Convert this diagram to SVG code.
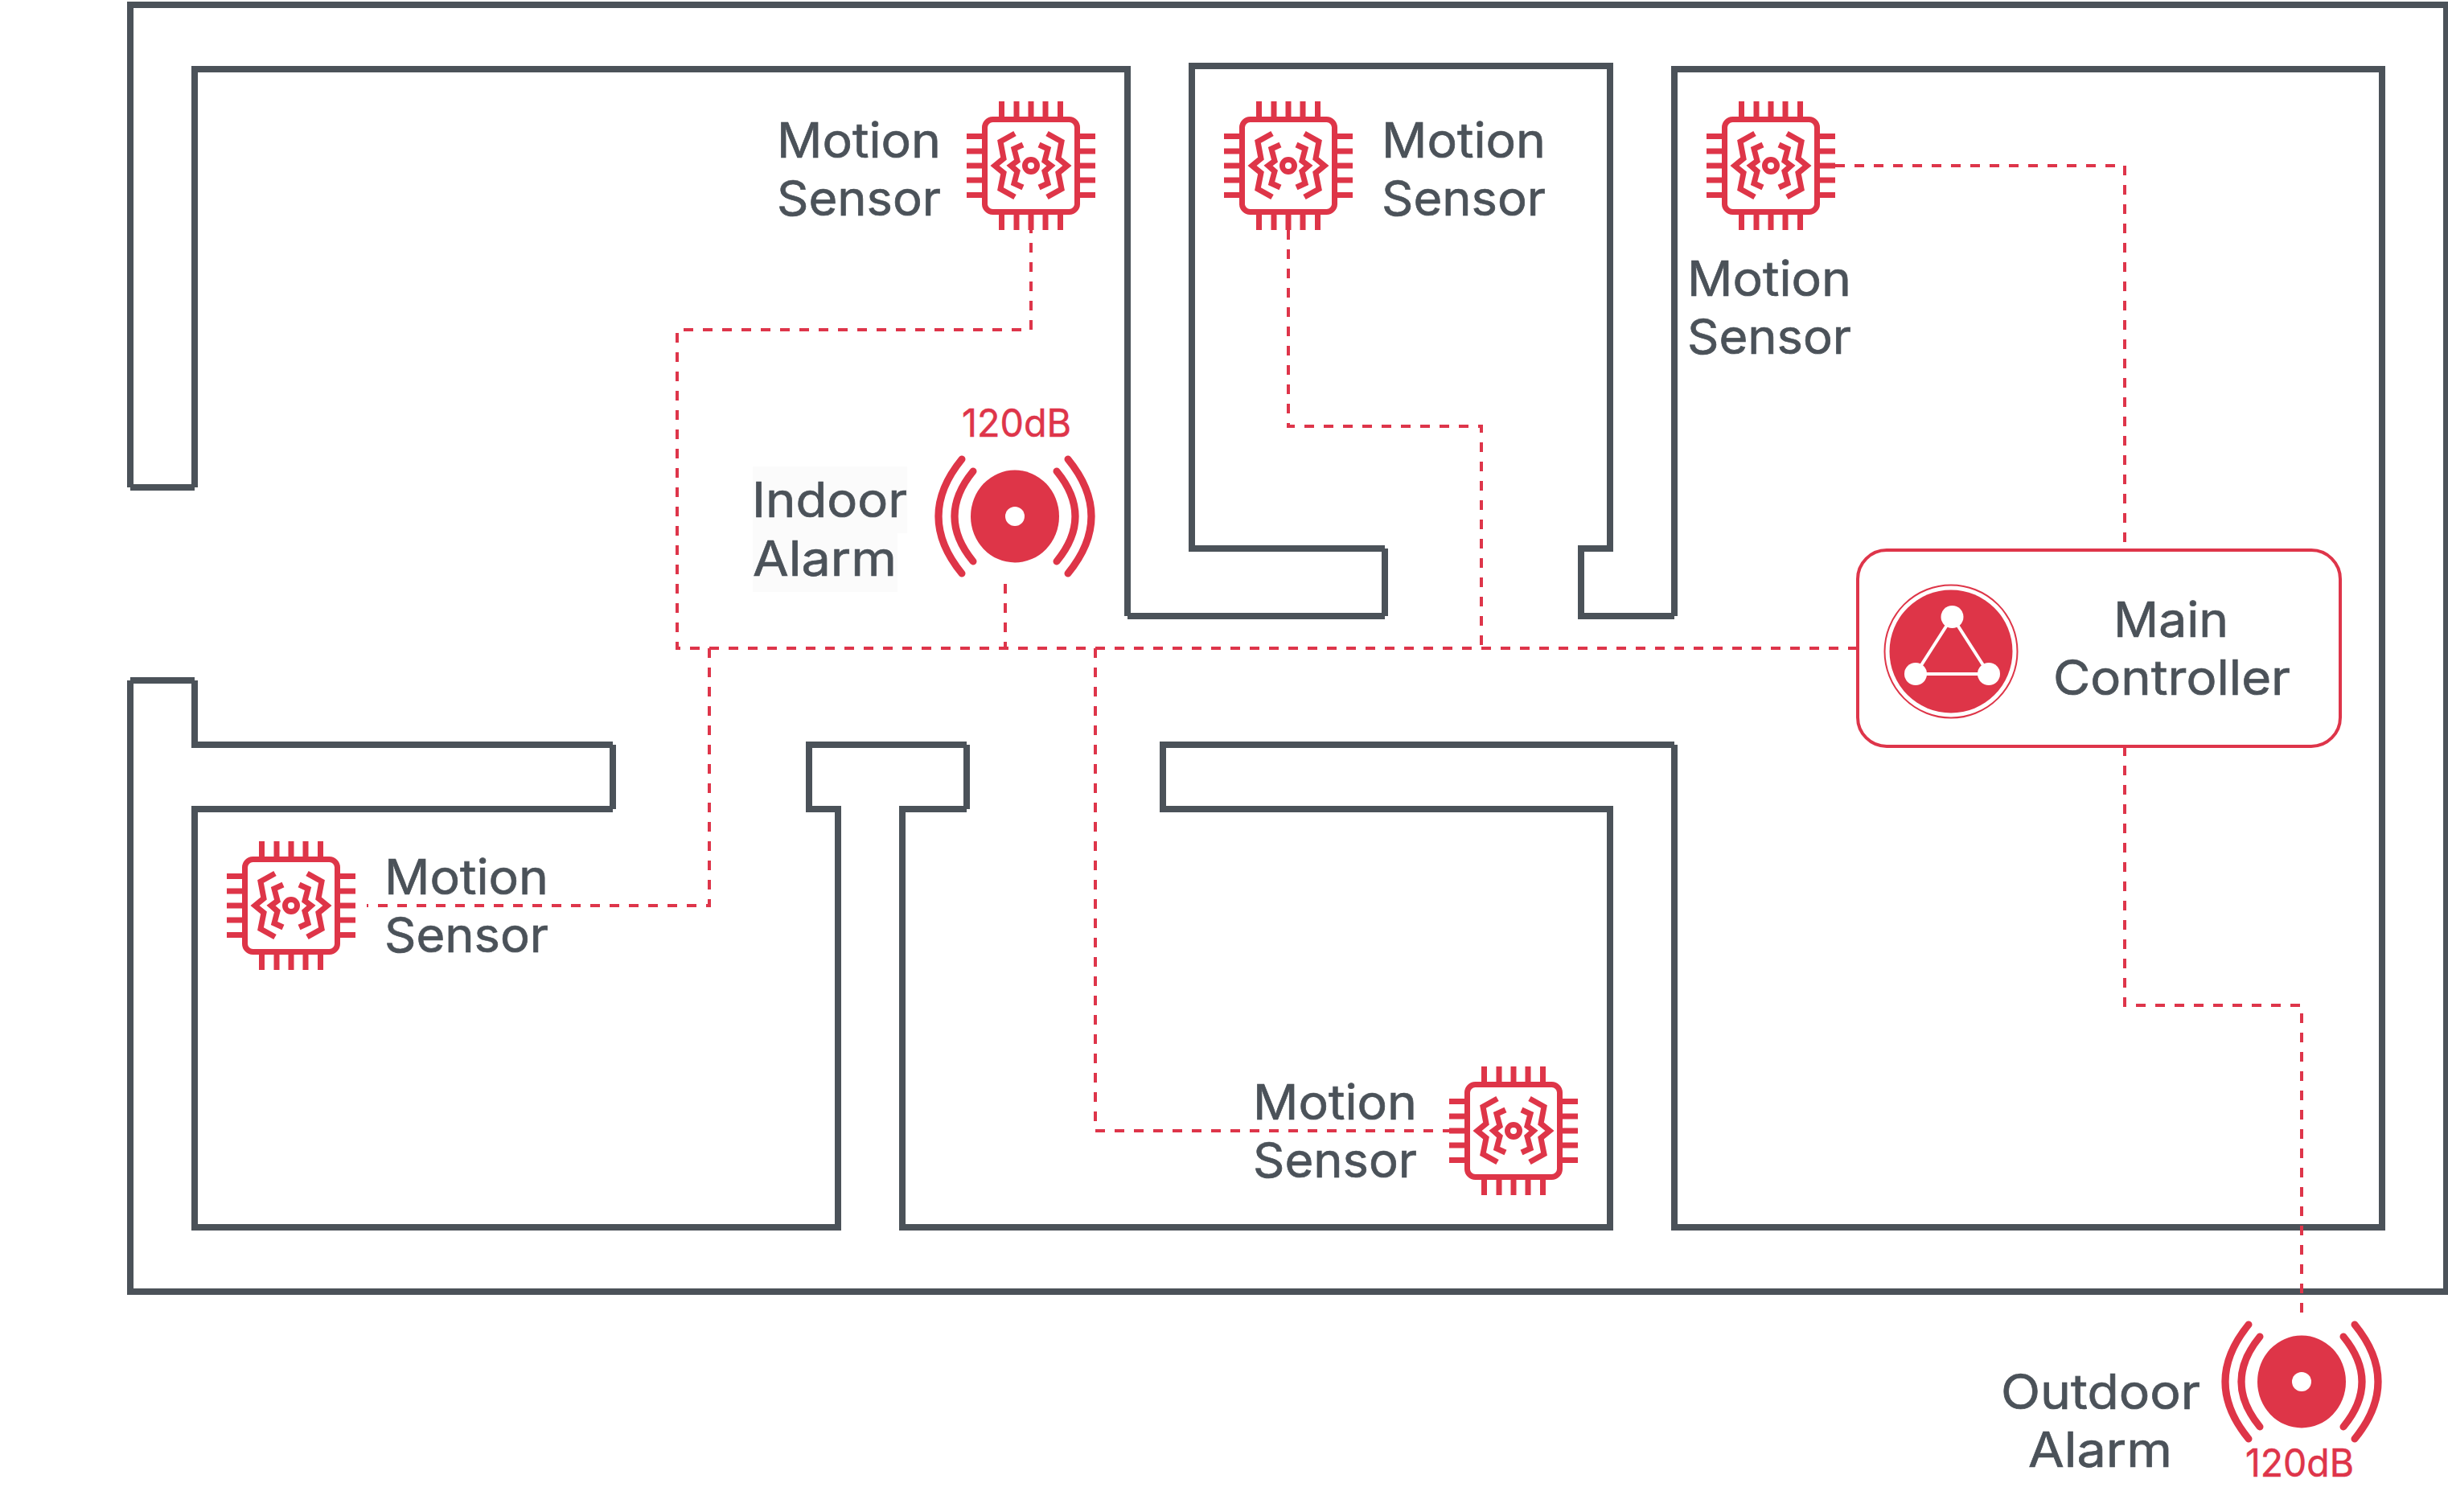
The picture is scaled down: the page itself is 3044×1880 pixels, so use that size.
<svg xmlns="http://www.w3.org/2000/svg" width="3044" height="1880" viewBox="0 0 3044 1880">
<style>
.wall{fill:none;stroke:#4b5259;stroke-width:8;stroke-linecap:butt;stroke-linejoin:miter}
.dash{fill:none;stroke:#de354a;stroke-width:4;stroke-dasharray:12 12}
.lbl{font-family:"Inter","Liberation Sans",sans-serif;font-size:60px;fill:#4b5259;stroke:#4b5259;stroke-width:.7}
.db{font-family:"Inter","Liberation Sans",sans-serif;font-size:48px;fill:#de354a;stroke:#de354a;stroke-width:.5}
.ico{fill:none;stroke:#de3548;stroke-width:7}
.arc{fill:none;stroke:#de3548;stroke-width:9;stroke-linecap:round}
</style>
<defs>
<g id="chip">
<rect class="ico" x="-57.5" y="-57.5" width="115" height="115" rx="10"/>
<path class="ico" d="M-80-36.500H-61M-80-18H-61M-80 0H-61M-80 18H-61M-80 36.500H-61M61-36.500H80M61-18H80M61 0H80M61 18H80M61 36.500H80M-36.500-80V-61M-18-80V-61M0-80V-61M18-80V-61M36.500-80V-61M-36.500 61V80M-18 61V80M0 61V80M18 61V80M36.500 61V80"/>
<circle class="ico" r="7.500"/>
<path class="ico" d="M-20-40L-38-30L-34-9L-45 0L-34 9L-38 29L-20 39M20-40L38-30L34-9L45 0L34 9L38 29L20 39M-10-26L-21-21L-17-6L-25 0L-17 7L-21 22L-10 27M10-26L21-21L17-6L25 0L17 7L21 22L10 27"/>
</g>
<g id="siren">
<ellipse rx="55" ry="57.500" fill="#de3548"/>
<circle r="12" fill="#fff"/>
<path class="arc" d="M-52-56Q-98 0-52 56M52-56Q98 0 52 56M-66-71Q-124 0-66 71M66-71Q124 0 66 71"/>
</g>
</defs>
<rect width="3044" height="1880" fill="#fff"/>
<g id="walls">
<path class="wall" d="M162 606V6H3042V1606H162V846"/>
<path class="wall" d="M162 846H242"/>
<path class="wall" d="M242 846V926H762"/>
<path class="wall" d="M762 926V1006"/>
<path class="wall" d="M762 1006H242V1526H1042V1006H1006V926H1202"/>
<path class="wall" d="M1202 926V1006"/>
<path class="wall" d="M1202 1006H1122V1526H2002V1006H1446V926H2082"/>
<path class="wall" d="M2082 926V1526H2962V86H2082V766"/>
<path class="wall" d="M2082 766H1966V682H2002V82H1482V682H1722"/>
<path class="wall" d="M1722 682V766"/>
<path class="wall" d="M1722 766H1402"/>
<path class="wall" d="M1402 766V86H242V606"/>
<path class="wall" d="M242 606H162"/>
</g>
<g id="connectors">
<path class="dash" d="M2310 806H842V410H1282V286"/>
<path class="dash" d="M1602 286V530H1842V806"/>
<path class="dash" d="M2282 206H2642V684"/>
<path class="dash" d="M1250 726V806"/>
<path class="dash" d="M882 806V1126H456"/>
<path class="dash" d="M1362 806V1406H1802"/>
<path class="dash" d="M2642 928V1250H2862V1634"/>
</g>
<g id="sensor-1"><use href="#chip" x="1282" y="206"/><text class="lbl" x="966" y="196" textLength="204" lengthAdjust="spacingAndGlyphs">Motion</text><text class="lbl" x="966" y="268" textLength="204" lengthAdjust="spacingAndGlyphs">Sensor</text></g>
<g id="sensor-2"><use href="#chip" x="1602" y="206"/><text class="lbl" x="1718" y="196" textLength="204" lengthAdjust="spacingAndGlyphs">Motion</text><text class="lbl" x="1718" y="268" textLength="204" lengthAdjust="spacingAndGlyphs">Sensor</text></g>
<g id="sensor-3"><use href="#chip" x="2202" y="206"/><text class="lbl" x="2098" y="368" textLength="204" lengthAdjust="spacingAndGlyphs">Motion</text><text class="lbl" x="2098" y="440" textLength="204" lengthAdjust="spacingAndGlyphs">Sensor</text></g>
<g id="sensor-4"><use href="#chip" x="362" y="1126"/><text class="lbl" x="478" y="1112" textLength="204" lengthAdjust="spacingAndGlyphs">Motion</text><text class="lbl" x="478" y="1184" textLength="204" lengthAdjust="spacingAndGlyphs">Sensor</text></g>
<g id="sensor-5"><use href="#chip" x="1882" y="1406"/><text class="lbl" x="1558" y="1392" textLength="204" lengthAdjust="spacingAndGlyphs">Motion</text><text class="lbl" x="1558" y="1464" textLength="204" lengthAdjust="spacingAndGlyphs">Sensor</text></g>
<g id="indoor-alarm">
<rect x="936" y="580" width="192" height="83" fill="#fbfbfb"/><rect x="936" y="663" width="180" height="73" fill="#fbfbfb"/>
<use href="#siren" x="1262" y="642"/>
<text class="lbl" x="935" y="643" textLength="193" lengthAdjust="spacingAndGlyphs">Indoor</text><text class="lbl" x="936" y="716" textLength="179" lengthAdjust="spacingAndGlyphs">Alarm</text>
<text class="db" x="1196" y="543" textLength="136" lengthAdjust="spacingAndGlyphs">120dB</text>
</g>
<g id="outdoor-alarm">
<use href="#siren" x="2862" y="1718"/>
<text class="lbl" x="2488" y="1752" textLength="248" lengthAdjust="spacingAndGlyphs">Outdoor</text><text class="lbl" x="2522" y="1824" textLength="179" lengthAdjust="spacingAndGlyphs">Alarm</text>
<text class="db" x="2792" y="1836" textLength="135" lengthAdjust="spacingAndGlyphs">120dB</text>
</g>
<g id="main-controller">
<rect x="2310" y="684" width="600" height="244" rx="36" fill="#fff" stroke="#de354a" stroke-width="4"/>
<circle cx="2426" cy="810" r="82.500" fill="#fff" stroke="#de3548" stroke-width="2"/>
<circle cx="2426" cy="810" r="76.500" fill="#de3548"/>
<path d="M2427.500 767L2382 838H2473Z" fill="none" stroke="#fff" stroke-width="4"/>
<circle cx="2427.500" cy="767" r="14" fill="#fff"/><circle cx="2382" cy="838" r="14" fill="#fff"/><circle cx="2473" cy="838" r="14" fill="#fff"/>
<text class="lbl" x="2628" y="792" textLength="143" lengthAdjust="spacingAndGlyphs">Main</text><text class="lbl" x="2553" y="864" textLength="295" lengthAdjust="spacingAndGlyphs">Controller</text>
</g>
</svg>
